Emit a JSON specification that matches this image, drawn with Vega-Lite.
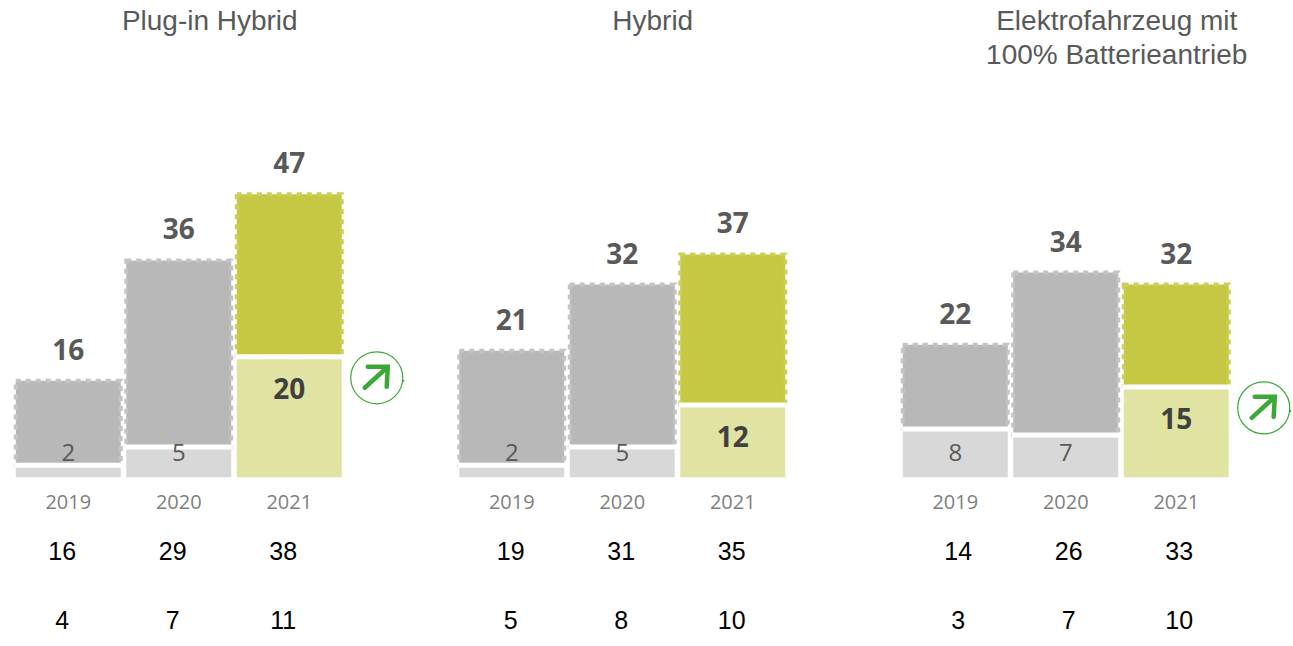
{"$schema":"https://vega.github.io/schema/vega-lite/v6.json","background":"white","padding":{"left":13,"top":8,"right":0,"bottom":0},"autosize":{"type":"pad"},"spacing":111.5,"bounds":"flush","config":{"view":{"stroke":null},"title":{"font":"Liberation Sans","fontSize":28,"fontWeight":"normal","color":"#595959","lineHeight":34}},"datasets":{"d":[
{"panel":"Plug-in Hybrid","year":"2019","total":16,"low":2,"row1":16,"row2":4,"trend":false},
{"panel":"Plug-in Hybrid","year":"2020","total":36,"low":5,"row1":29,"row2":7,"trend":false},
{"panel":"Plug-in Hybrid","year":"2021","total":47,"low":20,"row1":38,"row2":11,"trend":true},
{"panel":"Hybrid","year":"2019","total":21,"low":2,"row1":19,"row2":5,"trend":false},
{"panel":"Hybrid","year":"2020","total":32,"low":5,"row1":31,"row2":8,"trend":false},
{"panel":"Hybrid","year":"2021","total":37,"low":12,"row1":35,"row2":10,"trend":false},
{"panel":"BEV","year":"2019","total":22,"low":8,"row1":14,"row2":3,"trend":false},
{"panel":"BEV","year":"2020","total":34,"low":7,"row1":26,"row2":7,"trend":false},
{"panel":"BEV","year":"2021","total":32,"low":15,"row1":33,"row2":10,"trend":true}
]},"hconcat":[
{"title":{"text":["Plug-in Hybrid",""],"dx":31,"offset":46,"anchor":"middle"},"width":331.5,"height":361.2,"data":{"name":"d"},"transform":[{"filter":"datum.panel==='Plug-in Hybrid'"}],"resolve":{"scale":{"color":"independent"}},
"encoding":{"x":{"field":"year","type":"nominal","sort":null,"scale":{"paddingInner":0.05,"paddingOuter":0.025},"axis":{"title":null,"ticks":false,"domain":false,"labelAngle":0,"labelFont":"Open Sans","labelFontSize":20,"labelColor":"#7f7f7f","labelPadding":15}}},
"layer":[
{"mark":{"type":"bar","strokeWidth":4,"strokeDash":[5,5]},"encoding":{"y":{"field":"total","type":"quantitative","scale":{"domain":[0,60],"nice":false},"axis":null},"y2":{"field":"low"},"color":{"field":"year","type":"nominal","legend":null,"scale":{"domain":["2019","2020","2021"],"range":["#b8b8b8","#b8b8b8","#c4c842"]}},"stroke":{"field":"year","type":"nominal","legend":null,"scale":{"domain":["2019","2020","2021"],"range":["#c4c4c4","#c4c4c4","#cccf58"]}}}},
{"mark":{"type":"bar"},"encoding":{"y":{"field":"low","type":"quantitative"},"color":{"field":"year","type":"nominal","legend":null,"scale":{"domain":["2019","2020","2021"],"range":["#d8d8d8","#d8d8d8","#e0e3a1"]}}}},
{"mark":{"type":"tick","color":"white","size":108,"thickness":5,"opacity":1},"encoding":{"y":{"field":"low","type":"quantitative"}}},
{"mark":{"type":"text","font":"Open Sans","fontWeight":"bold","fontSize":28,"color":"#595959","baseline":"bottom","dy":-15},"encoding":{"y":{"field":"total","type":"quantitative"},"text":{"field":"total"}}},
{"transform":[{"filter":"datum.year!=='2021'"}],"mark":{"type":"text","font":"Open Sans","fontSize":24,"color":"#595959","baseline":"middle"},"encoding":{"y":{"datum":3.8},"text":{"field":"low"}}},
{"transform":[{"filter":"datum.year==='2021'"}],"mark":{"type":"text","font":"Open Sans","fontWeight":"bold","fontSize":28,"color":"#404040","baseline":"middle","dy":34},"encoding":{"y":{"field":"low","type":"quantitative"},"text":{"field":"low"}}},
{"mark":{"type":"text","font":"Liberation Sans","fontSize":25,"color":"black","baseline":"middle","xOffset":-6},"encoding":{"y":{"datum":-12.43},"text":{"field":"row1"}}},
{"mark":{"type":"text","font":"Liberation Sans","fontSize":25,"color":"black","baseline":"middle","xOffset":-6},"encoding":{"y":{"datum":-23.93},"text":{"field":"row2"}}},
{"transform":[{"filter":"datum.trend"}],"mark":{"type":"point","shape":"circle","filled":false,"size":2704,"color":"#3aa935","strokeWidth":1.2,"opacity":1,"xOffset":87.5,"yOffset":21},"encoding":{"y":{"field":"low","type":"quantitative"}}},
{"transform":[{"filter":"datum.trend"}],"mark":{"type":"point","shape":"M-1 .83 L.92 -.92 M-.75 -.92 L.92 -.92 L.83 .75","filled":false,"size":576,"color":"#3aa935","strokeWidth":4.5,"strokeCap":"round","opacity":1,"xOffset":87.5,"yOffset":21},"encoding":{"y":{"field":"low","type":"quantitative"}}},
{"transform":[{"filter":"datum.trend"}],"mark":{"type":"point","shape":"circle","filled":true,"size":5,"color":"#3aa935","opacity":1,"xOffset":114,"yOffset":24},"encoding":{"y":{"field":"low","type":"quantitative"}}}
]},
{"title":{"text":["Hybrid",""],"dx":30.5,"offset":46,"anchor":"middle"},"width":331.5,"height":361.2,"data":{"name":"d"},"transform":[{"filter":"datum.panel==='Hybrid'"}],"resolve":{"scale":{"color":"independent"}},
"encoding":{"x":{"field":"year","type":"nominal","sort":null,"scale":{"paddingInner":0.05,"paddingOuter":0.025},"axis":{"title":null,"ticks":false,"domain":false,"labelAngle":0,"labelFont":"Open Sans","labelFontSize":20,"labelColor":"#7f7f7f","labelPadding":15}}},
"layer":[
{"mark":{"type":"bar","strokeWidth":4,"strokeDash":[5,5]},"encoding":{"y":{"field":"total","type":"quantitative","scale":{"domain":[0,60],"nice":false},"axis":null},"y2":{"field":"low"},"color":{"field":"year","type":"nominal","legend":null,"scale":{"domain":["2019","2020","2021"],"range":["#b8b8b8","#b8b8b8","#c4c842"]}},"stroke":{"field":"year","type":"nominal","legend":null,"scale":{"domain":["2019","2020","2021"],"range":["#c4c4c4","#c4c4c4","#cccf58"]}}}},
{"mark":{"type":"bar"},"encoding":{"y":{"field":"low","type":"quantitative"},"color":{"field":"year","type":"nominal","legend":null,"scale":{"domain":["2019","2020","2021"],"range":["#d8d8d8","#d8d8d8","#e0e3a1"]}}}},
{"mark":{"type":"tick","color":"white","size":108,"thickness":5,"opacity":1},"encoding":{"y":{"field":"low","type":"quantitative"}}},
{"mark":{"type":"text","font":"Open Sans","fontWeight":"bold","fontSize":28,"color":"#595959","baseline":"bottom","dy":-15},"encoding":{"y":{"field":"total","type":"quantitative"},"text":{"field":"total"}}},
{"transform":[{"filter":"datum.year!=='2021'"}],"mark":{"type":"text","font":"Open Sans","fontSize":24,"color":"#595959","baseline":"middle"},"encoding":{"y":{"datum":3.8},"text":{"field":"low"}}},
{"transform":[{"filter":"datum.year==='2021'"}],"mark":{"type":"text","font":"Open Sans","fontWeight":"bold","fontSize":28,"color":"#404040","baseline":"middle","dy":34},"encoding":{"y":{"field":"low","type":"quantitative"},"text":{"field":"low"}}},
{"mark":{"type":"text","font":"Liberation Sans","fontSize":25,"color":"black","baseline":"middle","xOffset":-1},"encoding":{"y":{"datum":-12.43},"text":{"field":"row1"}}},
{"mark":{"type":"text","font":"Liberation Sans","fontSize":25,"color":"black","baseline":"middle","xOffset":-1},"encoding":{"y":{"datum":-23.93},"text":{"field":"row2"}}}
]},
{"title":{"text":["Elektrofahrzeug mit","100% Batterieantrieb"],"dx":51,"offset":46,"anchor":"middle"},"width":331.5,"height":361.2,"data":{"name":"d"},"transform":[{"filter":"datum.panel==='BEV'"}],"resolve":{"scale":{"color":"independent"}},
"encoding":{"x":{"field":"year","type":"nominal","sort":null,"scale":{"paddingInner":0.05,"paddingOuter":0.025},"axis":{"title":null,"ticks":false,"domain":false,"labelAngle":0,"labelFont":"Open Sans","labelFontSize":20,"labelColor":"#7f7f7f","labelPadding":15}}},
"layer":[
{"mark":{"type":"bar","strokeWidth":4,"strokeDash":[5,5]},"encoding":{"y":{"field":"total","type":"quantitative","scale":{"domain":[0,60],"nice":false},"axis":null},"y2":{"field":"low"},"color":{"field":"year","type":"nominal","legend":null,"scale":{"domain":["2019","2020","2021"],"range":["#b8b8b8","#b8b8b8","#c4c842"]}},"stroke":{"field":"year","type":"nominal","legend":null,"scale":{"domain":["2019","2020","2021"],"range":["#c4c4c4","#c4c4c4","#cccf58"]}}}},
{"mark":{"type":"bar"},"encoding":{"y":{"field":"low","type":"quantitative"},"color":{"field":"year","type":"nominal","legend":null,"scale":{"domain":["2019","2020","2021"],"range":["#d8d8d8","#d8d8d8","#e0e3a1"]}}}},
{"mark":{"type":"tick","color":"white","size":108,"thickness":5,"opacity":1},"encoding":{"y":{"field":"low","type":"quantitative"}}},
{"mark":{"type":"text","font":"Open Sans","fontWeight":"bold","fontSize":28,"color":"#595959","baseline":"bottom","dy":-15},"encoding":{"y":{"field":"total","type":"quantitative"},"text":{"field":"total"}}},
{"transform":[{"filter":"datum.year!=='2021'"}],"mark":{"type":"text","font":"Open Sans","fontSize":24,"color":"#595959","baseline":"middle"},"encoding":{"y":{"datum":3.8},"text":{"field":"low"}}},
{"transform":[{"filter":"datum.year==='2021'"}],"mark":{"type":"text","font":"Open Sans","fontWeight":"bold","fontSize":28,"color":"#404040","baseline":"middle","dy":34},"encoding":{"y":{"field":"low","type":"quantitative"},"text":{"field":"low"}}},
{"mark":{"type":"text","font":"Liberation Sans","fontSize":25,"color":"black","baseline":"middle","xOffset":3},"encoding":{"y":{"datum":-12.43},"text":{"field":"row1"}}},
{"mark":{"type":"text","font":"Liberation Sans","fontSize":25,"color":"black","baseline":"middle","xOffset":3},"encoding":{"y":{"datum":-23.93},"text":{"field":"row2"}}},
{"transform":[{"filter":"datum.trend"}],"mark":{"type":"point","shape":"circle","filled":false,"size":2704,"color":"#3aa935","strokeWidth":1.2,"opacity":1,"xOffset":87.5,"yOffset":21},"encoding":{"y":{"field":"low","type":"quantitative"}}},
{"transform":[{"filter":"datum.trend"}],"mark":{"type":"point","shape":"M-1 .83 L.92 -.92 M-.75 -.92 L.92 -.92 L.83 .75","filled":false,"size":576,"color":"#3aa935","strokeWidth":4.5,"strokeCap":"round","opacity":1,"xOffset":87.5,"yOffset":21},"encoding":{"y":{"field":"low","type":"quantitative"}}},
{"transform":[{"filter":"datum.trend"}],"mark":{"type":"point","shape":"circle","filled":true,"size":5,"color":"#3aa935","opacity":1,"xOffset":114,"yOffset":24},"encoding":{"y":{"field":"low","type":"quantitative"}}}
]}
]}
